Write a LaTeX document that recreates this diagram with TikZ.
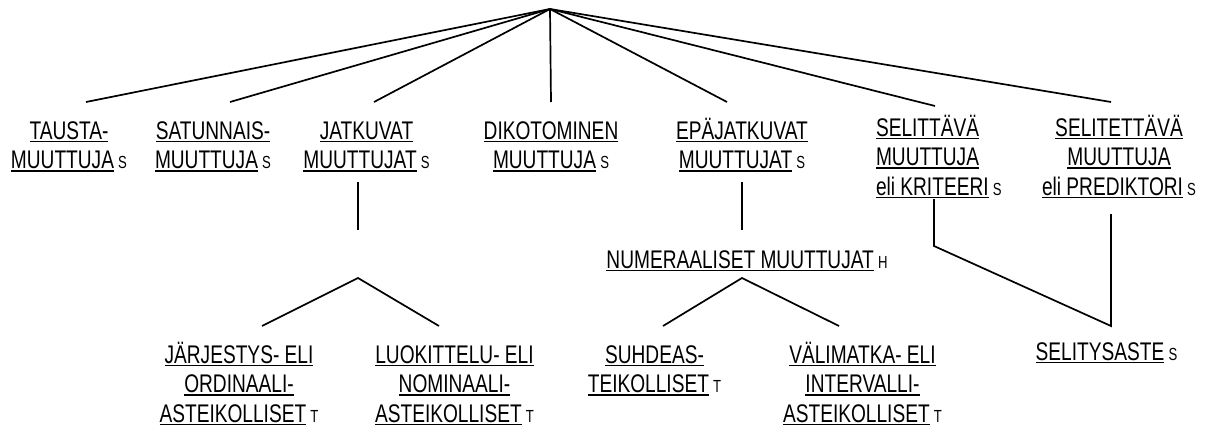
\documentclass[tikz,border=0pt]{standalone}
\usepackage{fontspec}
\setmainfont{Liberation Sans}[FakeStretch=0.75]
% underlined word: rule drawn just below the baseline, as wide as the text
\newcommand\ulx[1]{\setbox0\hbox{#1}\rlap{\rule[-3.4pt]{\wd0}{1.8pt}}\box0}
% small level letter after a label
\newcommand\lvl[1]{\hspace{4.2pt}{\fontsize{17.5}{17.5}\selectfont #1}}
\newcommand\cblock[1]{\begin{tabular}[t]{@{}c@{}}#1\end{tabular}}
\newcommand\lblock[1]{\begin{tabular}[t]{@{}l@{}}#1\end{tabular}}
\tikzset{
  lbl/.style={inner sep=0pt, outer sep=0pt, anchor=base,
              font=\fontsize{25.5}{29.5}\selectfont},
  link/.style={line width=1.7pt}
}
\begin{document}
\begin{tikzpicture}[x=1pt,y=-1pt]
\useasboundingbox (0,0) rectangle (1215,426);

% first row of labels
\node[lbl] (tausta) at (69,139)   {\cblock{\ulx{TAUSTA-}\\ \ulx{MUUTTUJA}\lvl{S}}};
\node[lbl] (satun)  at (213,139)  {\cblock{\ulx{SATUNNAIS-}\\ \ulx{MUUTTUJA}\lvl{S}}};
\node[lbl] (jatk)   at (366.5,139){\cblock{\ulx{JATKUVAT}\\ \ulx{MUUTTUJAT}\lvl{S}}};
\node[lbl] (diko)   at (551,139)  {\cblock{\ulx{DIKOTOMINEN}\\ \ulx{MUUTTUJA}\lvl{S}}};
\node[lbl] (epaj)   at (742,139)  {\cblock{\ulx{EPÄJATKUVAT}\\ \ulx{MUUTTUJAT}\lvl{S}}};
\node[lbl, anchor=base west] (selt) at (876,136)
  {\lblock{\ulx{SELITTÄVÄ}\\ \ulx{MUUTTUJA}\\ \ulx{eli KRITEERI}\lvl{S}}};
\node[lbl] (selet)  at (1119,136)
  {\cblock{\ulx{SELITETTÄVÄ}\\ \ulx{MUUTTUJA}\\ \ulx{eli PREDIKTORI}\lvl{S}}};

% middle label
\node[lbl] (num) at (747,268) {\ulx{NUMERAALISET MUUTTUJAT}\lvl{H}};

% bottom row of labels
\node[lbl] (jarj) at (239,363)
  {\cblock{\ulx{JÄRJESTYS- ELI}\\ \ulx{ORDINAALI-}\\ \ulx{ASTEIKOLLISET}\lvl{T}}};
\node[lbl] (luok) at (454.5,363)
  {\cblock{\ulx{LUOKITTELU- ELI}\\ \ulx{NOMINAALI-}\\ \ulx{ASTEIKOLLISET}\lvl{T}}};
\node[lbl] (suhd) at (654.5,363)
  {\cblock{\ulx{SUHDEAS-}\\ \ulx{TEIKOLLISET}\lvl{T}}};
\node[lbl] (vali) at (862.5,363)
  {\cblock{\ulx{VÄLIMATKA- ELI}\\ \ulx{INTERVALLI-}\\ \ulx{ASTEIKOLLISET}\lvl{T}}};
\node[lbl] (aste) at (1106.5,360) {\ulx{SELITYSASTE}\lvl{S}};

% connector end points
\coordinate (root) at (550,9);
\coordinate (tTa) at (86,102);
\coordinate (tSa) at (230,102);
\coordinate (tJa) at (374,102);
\coordinate (tDi) at (551,102);
\coordinate (tEp) at (727,102);
\coordinate (tSl) at (935,106);
\coordinate (tSe) at (1111,102);

\coordinate (jA) at (358,182);
\coordinate (jB) at (358,230);
\coordinate (jTop) at (358,278);
\coordinate (jL) at (262,326);
\coordinate (jR) at (439,326);

\coordinate (eA) at (742,182);
\coordinate (eB) at (742,230);
\coordinate (eTop) at (742,278);
\coordinate (eL) at (663,326);
\coordinate (eR) at (839,326);

\coordinate (kA) at (934,199);
\coordinate (kB) at (934,246);
\coordinate (pA) at (1111,214);
\coordinate (pB) at (1111,326);

% fan from the root
\foreach \e in {tTa,tSa,tJa,tDi,tEp,tSl,tSe}
  \draw[link] (root) -- (\e);

% branch below JATKUVAT MUUTTUJAT
\draw[link] (jA) -- (jB);
\draw[link] (jL) -- (jTop) -- (jR);

% branch below EPÄJATKUVAT MUUTTUJAT
\draw[link] (eA) -- (eB);
\draw[link] (eL) -- (eTop) -- (eR);

% link joining the two explanatory variables
\draw[link] (kA) -- (kB) -- (pB) -- (pA);
\end{tikzpicture}
\end{document}
